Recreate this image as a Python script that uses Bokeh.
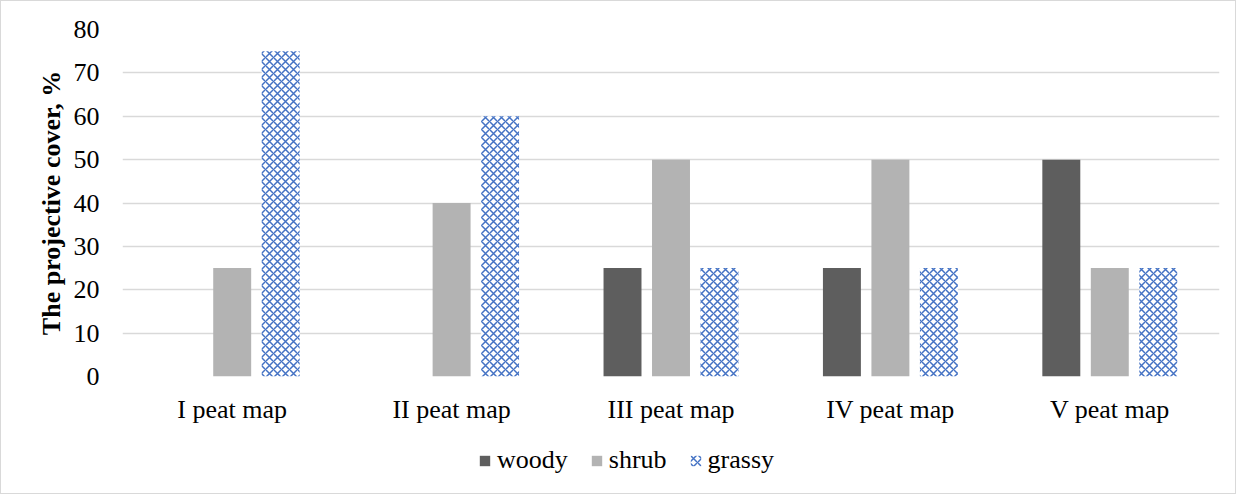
from bokeh.plotting import figure
from bokeh.layouts import column
from bokeh.models import ColumnDataSource, FactorRange, Legend, LegendItem, SingleIntervalTicker
from bokeh.transform import dodge
from bokeh.embed import file_html
from bokeh.resources import INLINE

categories = ["I peat map", "II peat map", "III peat map", "IV peat map", "V peat map"]
woody = [0, 0, 25, 25, 50]
shrub = [25, 40, 50, 50, 25]
grassy = [75, 60, 25, 25, 25]
series = ["woody", "shrub", "grassy"]

src = ColumnDataSource(dict(cat=categories, woody=woody, shrub=shrub, grassy=grassy))

FONT = "'Liberation Serif', serif"
FS = "26px"
W = 0.173
OFFS = [-0.221, 0.0, 0.221]
STYLES = [
    dict(fill_color="#5e5e5e", line_color=None),
    dict(fill_color="#b3b3b3", line_color=None),
    dict(fill_color="white", line_color=None, hatch_pattern="diagonal_cross",
         hatch_color="#4472c4", hatch_scale=8, hatch_weight=1.5),
]

p = figure(x_range=FactorRange(*categories), y_range=(0, 80),
           width=1234, height=440, output_backend="svg", toolbar_location=None,
           min_border_left=121, min_border_right=16, min_border_top=28, min_border_bottom=65)
p.outline_line_color = None
p.background_fill_color = "white"
p.border_fill_color = "white"

for s, off, st in zip(series, OFFS, STYLES):
    p.vbar(x=dodge("cat", off, range=p.x_range), top=s, width=W, source=src, **st)

p.yaxis.ticker = SingleIntervalTicker(interval=10)
p.ygrid.grid_line_color = "#d9d9d9"
p.ygrid.grid_line_width = 1.5
p.xgrid.grid_line_color = None
p.yaxis.axis_line_color = None
p.xaxis.axis_line_color = None
p.yaxis.major_tick_line_color = None
p.yaxis.minor_tick_line_color = None
p.xaxis.major_tick_line_color = None
p.yaxis.major_label_text_font = FONT
p.xaxis.major_label_text_font = FONT
p.yaxis.major_label_text_font_size = FS
p.xaxis.major_label_text_font_size = FS
p.yaxis.major_label_text_color = "black"
p.xaxis.major_label_text_color = "black"
p.yaxis.major_label_standoff = 17
p.xaxis.major_label_standoff = 12
p.yaxis.axis_label = "The projective cover, %"
p.yaxis.axis_label_text_font = FONT
p.yaxis.axis_label_text_font_style = "bold"
p.yaxis.axis_label_text_font_size = FS
p.yaxis.axis_label_text_color = "black"
p.yaxis.axis_label_standoff = 5

# legend strip below the chart: same series renderers, with a y range far above the data,
# so only the legend swatches are visible
lf = figure(x_range=FactorRange(*categories), y_range=(1000, 1001),
            width=1234, height=52, output_backend="svg", toolbar_location=None,
            min_border=0)
lf.axis.visible = False
lf.grid.visible = False
lf.outline_line_color = None
lf.border_fill_color = "white"
items = []
for s, off, st in zip(series, OFFS, STYLES):
    r = lf.vbar(x=dodge("cat", off, range=lf.x_range), top=s, width=W, source=src, **st)
    items.append(LegendItem(label=s, renderers=[r]))

legend = Legend(items=items, orientation="horizontal", location=(356, 18),
                label_text_font=FONT, label_text_font_size=FS, label_text_color="black",
                glyph_width=13, glyph_height=13, label_standoff=6, spacing=22,
                border_line_color=None, background_fill_alpha=0, margin=0, padding=0)
lf.add_layout(legend, "center")

layout = column(p, lf, spacing=0)
layout.styles = {"border": "1px solid #d9d9d9", "background-color": "white", "gap": "0px"}

open("out.html", "w").write(file_html(layout, INLINE))
